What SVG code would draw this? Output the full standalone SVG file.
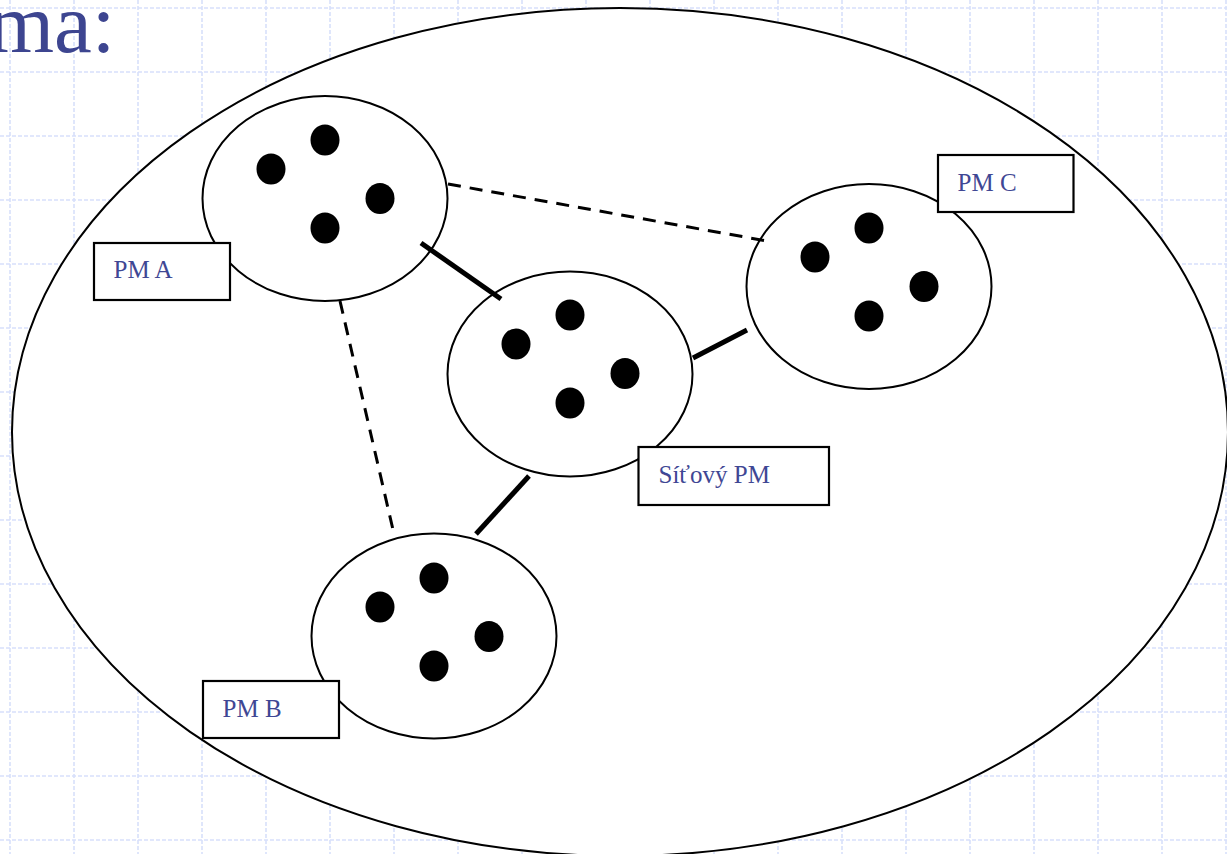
<svg xmlns="http://www.w3.org/2000/svg" width="1227" height="854" viewBox="0 0 1227 854">
<defs>
<style>
.grid line{stroke:#d8e0fb;stroke-width:1.6;stroke-dasharray:4 2}
.pm{fill:#fff;stroke:#000;stroke-width:2}
.dot{fill:#000}
.box{fill:#fff;stroke:#000;stroke-width:2.2}
.lbl{font-family:"Liberation Serif","Times New Roman",serif;font-size:25px;fill:#3f4794}
.solid{stroke:#000;stroke-width:5;fill:none}
.dash{stroke:#000;stroke-width:3;fill:none;stroke-dasharray:13 9}
</style>
<g id="dots">
<ellipse class="dot" cx="0" cy="-58.5" rx="14.5" ry="15.5"/>
<ellipse class="dot" cx="-54" cy="-29.5" rx="14.5" ry="15.5"/>
<ellipse class="dot" cx="55" cy="0" rx="14.5" ry="15.5"/>
<ellipse class="dot" cx="0" cy="29.5" rx="14.5" ry="15.5"/>
</g>
</defs>
<rect width="1227" height="854" fill="#fff"/>
<g class="grid">
<line x1="10" y1="0" x2="10" y2="854"/><line x1="74" y1="0" x2="74" y2="854"/><line x1="138" y1="0" x2="138" y2="854"/><line x1="202" y1="0" x2="202" y2="854"/><line x1="266" y1="0" x2="266" y2="854"/><line x1="330" y1="0" x2="330" y2="854"/><line x1="394" y1="0" x2="394" y2="854"/><line x1="458" y1="0" x2="458" y2="854"/><line x1="522" y1="0" x2="522" y2="854"/><line x1="586" y1="0" x2="586" y2="854"/><line x1="650" y1="0" x2="650" y2="854"/><line x1="714" y1="0" x2="714" y2="854"/><line x1="778" y1="0" x2="778" y2="854"/><line x1="842" y1="0" x2="842" y2="854"/><line x1="906" y1="0" x2="906" y2="854"/><line x1="970" y1="0" x2="970" y2="854"/><line x1="1034" y1="0" x2="1034" y2="854"/><line x1="1098" y1="0" x2="1098" y2="854"/><line x1="1162" y1="0" x2="1162" y2="854"/><line x1="1226" y1="0" x2="1226" y2="854"/>
<line x1="0" y1="8" x2="1227" y2="8"/><line x1="0" y1="72" x2="1227" y2="72"/><line x1="0" y1="136" x2="1227" y2="136"/><line x1="0" y1="200" x2="1227" y2="200"/><line x1="0" y1="264" x2="1227" y2="264"/><line x1="0" y1="328" x2="1227" y2="328"/><line x1="0" y1="392" x2="1227" y2="392"/><line x1="0" y1="456" x2="1227" y2="456"/><line x1="0" y1="520" x2="1227" y2="520"/><line x1="0" y1="584" x2="1227" y2="584"/><line x1="0" y1="648" x2="1227" y2="648"/><line x1="0" y1="712" x2="1227" y2="712"/><line x1="0" y1="776" x2="1227" y2="776"/><line x1="0" y1="840" x2="1227" y2="840"/>
</g>
<text x="-12" y="52" font-family="'Liberation Serif','Times New Roman',serif" font-size="85" fill="#3d4590">ma:</text>
<ellipse id="outer" cx="620" cy="432" rx="608" ry="424" fill="#fff" stroke="#000" stroke-width="2"/>
<g id="pmA">
<ellipse class="pm" cx="325" cy="198.5" rx="122.5" ry="102.5"/>
<use href="#dots" x="325" y="198.5"/>
</g>
<g id="pmNet">
<ellipse class="pm" cx="570" cy="374" rx="122.5" ry="102.5"/>
<use href="#dots" x="570" y="373.5"/>
</g>
<g id="pmB">
<ellipse class="pm" cx="434" cy="636" rx="122.5" ry="102.5"/>
<use href="#dots" x="434" y="636.5"/>
</g>
<g id="pmC">
<ellipse class="pm" cx="869" cy="286.5" rx="122.5" ry="102.5"/>
<use href="#dots" x="869" y="286.5"/>
</g>
<g id="connectors">
<line class="dash" x1="448" y1="184" x2="767" y2="241"/>
<line class="dash" x1="340" y1="301" x2="394" y2="534"/>
<line class="solid" x1="421" y1="243" x2="501" y2="299"/>
<line class="solid" x1="693" y1="358" x2="747" y2="330"/>
<line class="solid" x1="476" y1="534" x2="529" y2="476"/>
</g>
<g id="labelA">
<rect class="box" x="94" y="243" width="136" height="57"/>
<text class="lbl" x="113.5" y="278">PM A</text>
</g>
<g id="labelC">
<rect class="box" x="938" y="155" width="135.5" height="57"/>
<text class="lbl" x="957.5" y="191">PM C</text>
</g>
<g id="labelNet">
<rect class="box" x="638.5" y="447" width="190.5" height="58"/>
<text class="lbl" x="658.5" y="483">Síťový PM</text>
</g>
<g id="labelB">
<rect class="box" x="203" y="681" width="136" height="57"/>
<text class="lbl" x="222.5" y="717">PM B</text>
</g>
</svg>
